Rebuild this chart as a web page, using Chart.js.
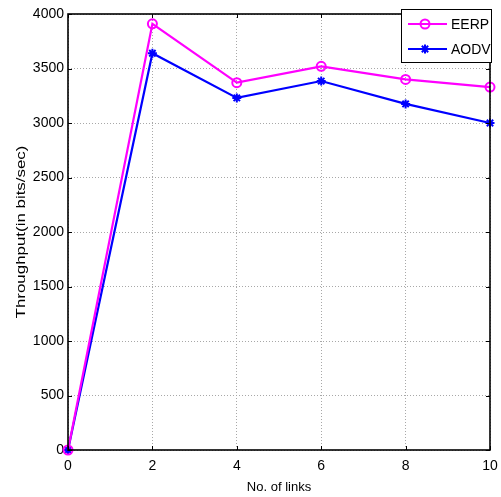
<!DOCTYPE html>
<html><head><meta charset="utf-8">
<script src="https://cdn.jsdelivr.net/npm/chart.js@4/dist/chart.umd.min.js"></script>
<style>html,body{margin:0;padding:0;background:#fff;overflow:hidden}canvas{display:block}</style>
</head><body>
<canvas id="c" width="501" height="497"></canvas>
<script>
const xLinks = [0, 2, 4, 6, 8, 10];
const eerpValues = [0, 3910, 3370, 3520, 3400, 3330];
const aodvValues = [0, 3640, 3230, 3385, 3175, 3000];
const seriesNames = ['EERP', 'AODV'];
const xTickValues = [0, 2, 4, 6, 8, 10];
const yTickValues = [0, 500, 1000, 1500, 2000, 2500, 3000, 3500, 4000];
const xTitle = 'No. of links';
const yTitle = 'Throughput(in bits/sec)';

const FONT = "'Liberation Sans', Arial, sans-serif";

function pts(vals) { return xLinks.map((x, i) => ({x: x, y: vals[i]})); }

const boxPlugin = {
  id: 'boxPlugin',
  afterDatasetsDraw(chart) {
    const ctx = chart.ctx, a = chart.chartArea;
    const xs = chart.scales.x, ys = chart.scales.y;
    ctx.save();
    ctx.strokeStyle = '#000';
    ctx.lineWidth = 1;
    ctx.beginPath();
    xTickValues.forEach(v => {
      const px = Math.round(xs.getPixelForValue(v)) + 0.5;
      ctx.moveTo(px, a.bottom); ctx.lineTo(px, a.bottom - 4);
      ctx.moveTo(px, a.top); ctx.lineTo(px, a.top + 4);
    });
    yTickValues.forEach(v => {
      const py = Math.round(ys.getPixelForValue(v)) + 0.5;
      ctx.moveTo(a.left, py); ctx.lineTo(a.left + 4, py);
      ctx.moveTo(a.right, py); ctx.lineTo(a.right - 4, py);
    });
    ctx.stroke();
    ctx.lineWidth = 1.6;
    ctx.strokeRect(a.left, a.top, a.right - a.left, a.bottom - a.top);
    ctx.restore();
  },
  afterDraw(chart) {
    const ctx = chart.ctx, a = chart.chartArea;
    // y axis title (stretched along its length like the source figure)
    ctx.save();
    ctx.translate(21, (a.top + a.bottom) / 2);
    ctx.rotate(-Math.PI / 2);
    ctx.scale(1.3, 1);
    ctx.font = '13px ' + FONT;
    ctx.fillStyle = '#000';
    ctx.textAlign = 'center';
    ctx.textBaseline = 'middle';
    ctx.fillText(yTitle, 0, 0);
    ctx.restore();

    const bx = a.right - 89, by = a.top - 5, bw = 90, bh = 53;
    ctx.save();
    ctx.fillStyle = '#fff';
    ctx.fillRect(bx, by, bw, bh);
    ctx.strokeStyle = '#000';
    ctx.lineWidth = 1;
    ctx.strokeRect(bx + 0.5, by + 0.5, bw, bh);
    chart.data.datasets.forEach((ds, i) => {
      const cy = by + 15 + i * 25;
      ctx.strokeStyle = ds.borderColor;
      ctx.fillStyle = ds.pointBackgroundColor;
      ctx.lineWidth = 2;
      ctx.beginPath();
      ctx.moveTo(bx + 7, cy); ctx.lineTo(bx + 46, cy);
      ctx.stroke();
      Chart.helpers.drawPoint(ctx, {pointStyle: ds.pointStyle, radius: ds.pointRadius, borderWidth: 2}, bx + 24, cy);
      ctx.fillStyle = '#000';
      ctx.font = '14px ' + FONT;
      ctx.textBaseline = 'middle';
      ctx.textAlign = 'left';
      ctx.fillText(ds.label, bx + 50, cy + 1);
    });
    ctx.restore();
  }
};

new Chart(document.getElementById('c'), {
  type: 'line',
  data: {
    datasets: [
      {label: seriesNames[0], data: pts(eerpValues), borderColor: '#ff00ff', backgroundColor: 'rgba(0,0,0,0)',
       borderWidth: 2.2, pointStyle: 'circle', pointRadius: 4.5, pointBorderWidth: 2, pointBackgroundColor: 'rgba(0,0,0,0)',
       pointBorderColor: '#ff00ff', tension: 0, clip: 12},
      {label: seriesNames[1], data: pts(aodvValues), borderColor: '#0000ff', backgroundColor: '#0000ff',
       borderWidth: 2.2, pointStyle: 'star', pointRadius: 4.5, pointBorderWidth: 2, pointBackgroundColor: '#0000ff',
       pointBorderColor: '#0000ff', tension: 0, clip: 12}
    ]
  },
  options: {
    responsive: false,
    animation: false,
    devicePixelRatio: 1,
    layout: {padding: {top: 14, right: 11, left: 0, bottom: 0}},
    plugins: {legend: {display: false}, tooltip: {enabled: false}},
    scales: {
      x: {
        type: 'linear', min: 0, max: 10,
        afterBuildTicks: s => { s.ticks = xTickValues.map(v => ({value: v})); },
        afterFit: s => { s.height = 47; s.paddingLeft = 0; s.paddingRight = 0; },
        ticks: {color: '#000', font: {family: FONT, size: 14}, padding: 8, maxRotation: 0,
                callback: v => String(v)},
        grid: {color: '#a8a8a8', drawTicks: false, lineWidth: 1},
        border: {display: false, dash: [1, 2]},
        title: {display: true, text: xTitle, color: '#000', font: {family: FONT, size: 13}, padding: {top: 0, bottom: 2}}
      },
      y: {
        type: 'linear', min: 0, max: 4000,
        afterBuildTicks: s => { s.ticks = yTickValues.map(v => ({value: v})); },
        afterFit: s => { s.width = 68; s.paddingTop = 0; s.paddingBottom = 0; },
        ticks: {color: '#000', font: {family: FONT, size: 14}, padding: 4, callback: v => String(v)},
        grid: {color: '#a8a8a8', drawTicks: false, lineWidth: 1},
        border: {display: false, dash: [1, 2]},
        title: {display: false}
      }
    }
  },
  plugins: [boxPlugin]
});
</script>
</body></html>
